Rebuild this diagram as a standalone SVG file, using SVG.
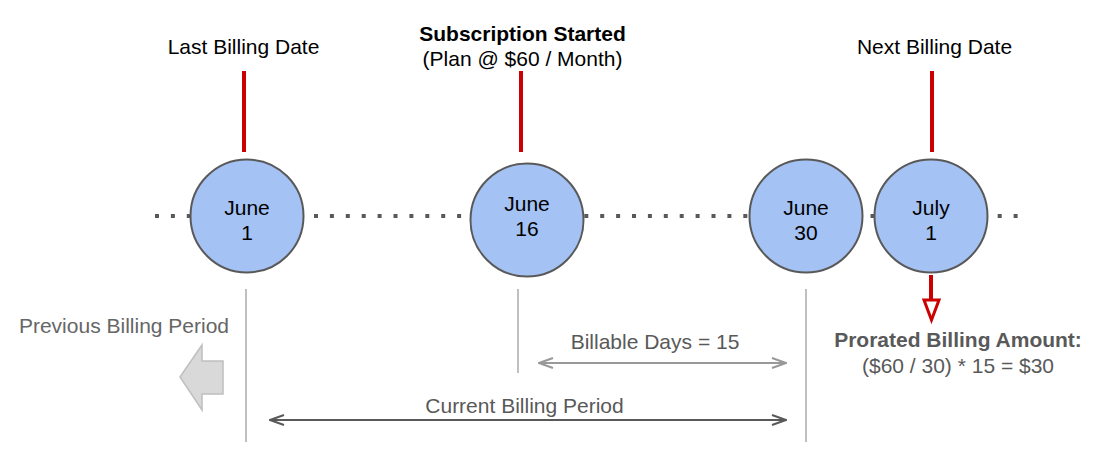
<svg xmlns="http://www.w3.org/2000/svg" width="1105" height="462" viewBox="0 0 1105 462">
<style>
text{font-family:"Liberation Sans",Arial,sans-serif;font-size:21px;text-anchor:middle}
.blk{fill:#000}
.gr{fill:#595959}
.lgr{fill:#666}
.b{font-weight:bold}
.node circle{fill:#a4c2f4;stroke:#595959;stroke-width:2}
.red{stroke:#cc0000;stroke-width:4;fill:none}
.vline{stroke:#bfbfbf;stroke-width:2}
</style>
<defs>
<marker id="ah1" viewBox="0 0 16 12" refX="15" refY="6" markerWidth="16" markerHeight="12" markerUnits="userSpaceOnUse" orient="auto-start-reverse">
<path d="M1,1 L15,6 L1,11" fill="none" stroke="#999" stroke-width="2"/>
</marker>
<marker id="ah2" viewBox="0 0 16 12" refX="15" refY="6" markerWidth="16" markerHeight="12" markerUnits="userSpaceOnUse" orient="auto-start-reverse">
<path d="M1,1 L15,6 L1,11" fill="none" stroke="#595959" stroke-width="2"/>
</marker>
</defs>
<rect width="1105" height="462" fill="#fff"/>
<g id="timeline">
<line x1="155" y1="216" x2="1024" y2="216" stroke="#595959" stroke-width="4" stroke-dasharray="4 11.9"/>
</g>
<g id="connectors">
<line class="red" x1="244" y1="71" x2="244" y2="152"/>
<line class="red" x1="521" y1="71" x2="521" y2="152"/>
<line class="red" x1="932" y1="71" x2="932" y2="152"/>
<line class="red" x1="931" y1="275" x2="931" y2="300"/>
<polygon points="924,300 939,300 931.5,320" fill="#fff" stroke="#cc0000" stroke-width="3"/>
<line class="vline" x1="246" y1="289" x2="246" y2="442"/>
<line class="vline" x1="518" y1="289" x2="518" y2="373"/>
<line class="vline" x1="806" y1="289" x2="806" y2="442"/>
<line x1="539" y1="363" x2="786" y2="363" stroke="#999" stroke-width="2" marker-start="url(#ah1)" marker-end="url(#ah1)"/>
<line x1="270" y1="420" x2="786" y2="420" stroke="#595959" stroke-width="2" marker-start="url(#ah2)" marker-end="url(#ah2)"/>
<polygon points="180,377 202,345 202,361 223,361 223,394 202,394 202,410" fill="#d9d9d9" stroke="#bfbfbf" stroke-width="1.5"/>
</g>
<g id="n-june1" class="node">
<circle cx="247" cy="216" r="56.5"/>
<text class="blk" x="247" y="215">June</text>
<text class="blk" x="247" y="240">1</text>
</g>
<g id="n-june16" class="node">
<circle cx="527" cy="220" r="56.5"/>
<text class="blk" x="527" y="211">June</text>
<text class="blk" x="527" y="236">16</text>
</g>
<g id="n-june30" class="node">
<circle cx="806" cy="216" r="56.5"/>
<text class="blk" x="806" y="214.5">June</text>
<text class="blk" x="806" y="239.5">30</text>
</g>
<g id="n-july1" class="node">
<circle cx="931" cy="216" r="56.5"/>
<text class="blk" x="931" y="214.5">July</text>
<text class="blk" x="931" y="239.5">1</text>
</g>
<g id="labels">
<text class="blk" x="243.5" y="53.5">Last Billing Date</text>
<text class="blk b" x="522.5" y="40.5">Subscription Started</text>
<text class="blk" x="522.5" y="65.5">(Plan @ $60 / Month)</text>
<text class="blk" x="934.5" y="53.5">Next Billing Date</text>
<text class="lgr" x="124" y="333">Previous Billing Period</text>
<text class="gr" x="655" y="348.5">Billable Days = 15</text>
<text class="gr" x="524.5" y="412.5">Current Billing Period</text>
<text class="gr b" x="958" y="347">Prorated Billing Amount:</text>
<text class="gr" x="958" y="373">($60 / 30) * 15 = $30</text>
</g>
</svg>
